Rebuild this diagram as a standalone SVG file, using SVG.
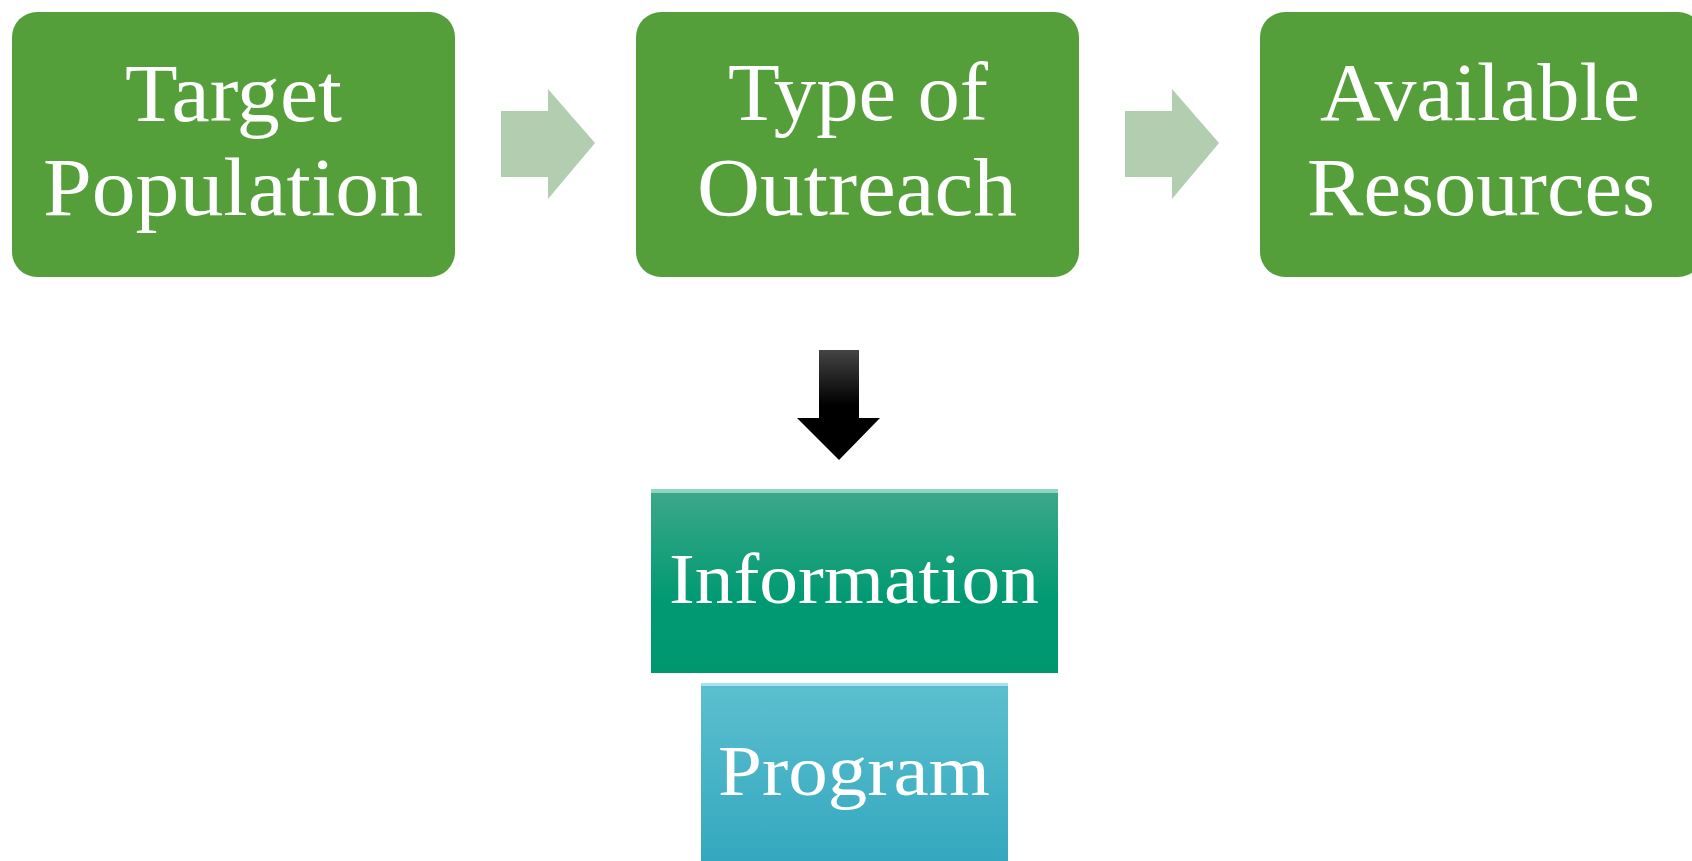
<svg xmlns="http://www.w3.org/2000/svg" width="1692" height="861" viewBox="0 0 1692 861">
<style>
.box{fill:#559f3b}
.t{font-family:"Liberation Serif","DejaVu Serif",serif;fill:#ffffff;font-size:82px}
.s{font-family:"Liberation Serif","DejaVu Serif",serif;fill:#ffffff;font-size:72px}
.ga{fill:#b3cdb0}
</style>
<defs>
<linearGradient id="gInfo" x1="0" y1="0" x2="0" y2="1">
<stop offset="0" stop-color="#3ea88a"/>
<stop offset="0.6" stop-color="#009a72"/>
<stop offset="1" stop-color="#00976f"/>
</linearGradient>
<linearGradient id="gProg" x1="0" y1="0" x2="0" y2="1">
<stop offset="0" stop-color="#5cbfd0"/>
<stop offset="1" stop-color="#34a8be"/>
</linearGradient>
<linearGradient id="gBlk" x1="0" y1="0" x2="0" y2="1">
<stop offset="0" stop-color="#444"/>
<stop offset="0.5" stop-color="#000"/>
<stop offset="1" stop-color="#000"/>
</linearGradient>
</defs>
<rect width="1692" height="861" fill="#ffffff"/>
<g id="node-target">
<rect class="box" x="12" y="12" width="443" height="265" rx="25"/>
<text class="t" x="125" y="121" textLength="217" lengthAdjust="spacingAndGlyphs">Target</text>
<text class="t" x="43" y="215" textLength="380" lengthAdjust="spacingAndGlyphs">Population</text>
</g>
<g id="node-type">
<rect class="box" x="636" y="12" width="443" height="265" rx="25"/>
<text class="t" x="728" y="120" textLength="260" lengthAdjust="spacingAndGlyphs">Type of</text>
<text class="t" x="697" y="215" textLength="320" lengthAdjust="spacingAndGlyphs">Outreach</text>
</g>
<g id="node-resources">
<rect class="box" x="1260" y="12" width="443" height="265" rx="25"/>
<text class="t" x="1320" y="120" textLength="320" lengthAdjust="spacingAndGlyphs">Available</text>
<text class="t" x="1307" y="215" textLength="348" lengthAdjust="spacingAndGlyphs">Resources</text>
</g>
<g id="node-information">
<rect x="651" y="489" width="407" height="184" fill="url(#gInfo)"/>
<rect x="651" y="489" width="407" height="4" fill="#8fd6c0"/>
<text class="s" x="669" y="603" textLength="370" lengthAdjust="spacingAndGlyphs">Information</text>
</g>
<g id="node-program">
<rect x="701" y="683" width="307" height="178" fill="url(#gProg)"/>
<rect x="701" y="683" width="307" height="3" fill="#a6e3ea"/>
<text class="s" x="718" y="795" textLength="272" lengthAdjust="spacingAndGlyphs">Program</text>
</g>
<g id="connectors">
<polygon class="ga" points="501,111 548,111 548,89 595,143 548,199 548,177 501,177"/>
<polygon class="ga" points="1125,111 1172,111 1172,89 1219,143 1172,199 1172,177 1125,177"/>
<polygon fill="url(#gBlk)" points="819,350 859,350 859,418 880,418 839,460 797,418 819,418"/>
</g>
</svg>
